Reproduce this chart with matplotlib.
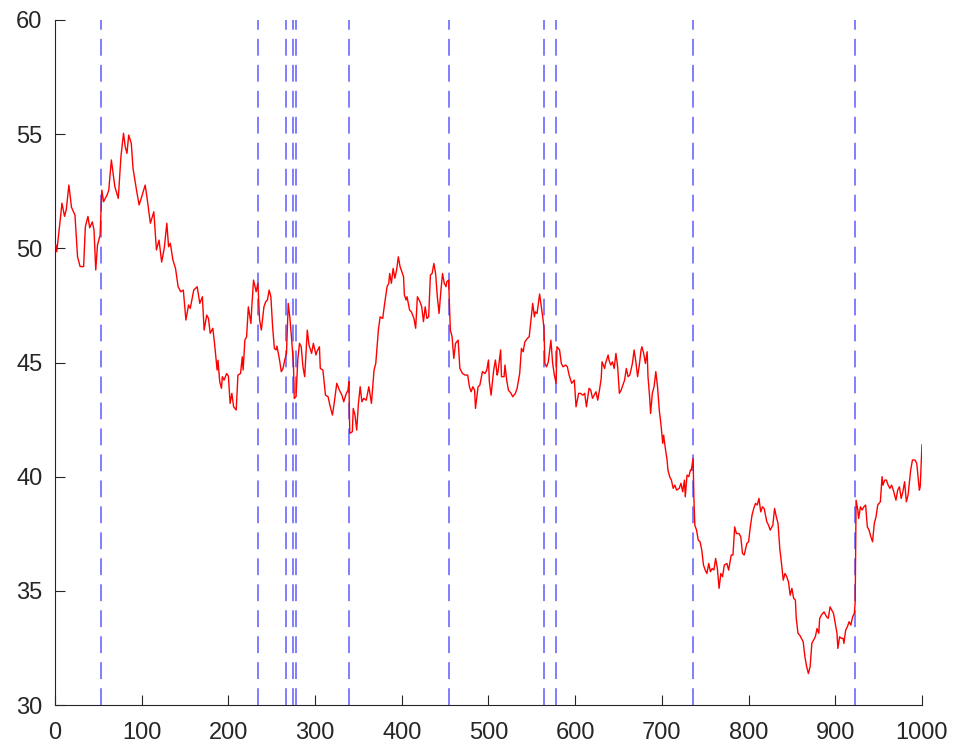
import matplotlib
matplotlib.use("Agg")
import matplotlib.pyplot as plt

plt.rcParams["font.family"] = ["Liberation Sans", "DejaVu Sans"]

# series (sample index, value)
idx = [1, 2, 6, 8, 11, 13, 16, 19, 23, 26, 29, 33, 35, 38, 40, 43, 45, 47, 49, 52,
       54, 56, 60, 62, 65, 69, 73, 76, 79, 81, 83, 85, 88, 90, 94, 97, 100, 104, 106, 110,
       114, 117, 120, 123, 126, 129, 131, 133, 136, 139, 142, 145, 148, 151, 154, 156, 160, 164, 167, 170,
       172, 175, 177, 179, 182, 184, 187, 188, 190, 192, 193, 195, 198, 200, 202, 204, 206, 209, 211, 214,
       216, 217, 219, 221, 223, 226, 227, 229, 232, 234, 236, 238, 241, 243, 245, 247, 249, 251, 253, 255,
       256, 259, 261, 263, 265, 267, 269, 271, 273, 275, 276, 278, 280, 282, 284, 286, 288, 291, 293, 296,
       298, 301, 302, 305, 306, 309, 312, 315, 317, 320, 322, 325, 328, 331, 333, 336, 338, 339, 340, 343,
       344, 346, 348, 350, 352, 354, 356, 359, 362, 365, 368, 370, 373, 375, 378, 380, 383, 385, 386, 388,
       390, 392, 394, 396, 398, 400, 402, 403, 405, 406, 409, 411, 414, 416, 418, 421, 423, 425, 427, 429,
       431, 433, 435, 437, 439, 441, 443, 445, 447, 449, 451, 452, 454, 456, 458, 460, 462, 465, 467, 470,
       473, 476, 478, 480, 482, 484, 485, 488, 490, 493, 496, 498, 500, 501, 503, 506, 508, 510, 511, 514,
       515, 518, 519, 521, 523, 526, 528, 531, 533, 536, 538, 540, 542, 545, 547, 549, 551, 553, 554, 556,
       559, 561, 563, 564, 565, 567, 569, 572, 574, 576, 578, 579, 582, 584, 586, 589, 591, 593, 596, 599,
       601, 604, 606, 609, 611, 613, 616, 618, 620, 622, 624, 626, 628, 630, 631, 634, 635, 638, 639, 641,
       643, 645, 647, 649, 651, 653, 655, 657, 659, 661, 663, 666, 668, 670, 672, 674, 676, 677, 679, 681,
       683, 684, 686, 687, 689, 691, 693, 695, 697, 699, 701, 702, 704, 706, 707, 709, 711, 713, 715, 717,
       720, 722, 724, 726, 727, 729, 731, 733, 734, 736, 737, 738, 740, 742, 744, 746, 748, 750, 752, 754,
       756, 758, 760, 762, 764, 766, 768, 770, 772, 775, 777, 780, 782, 784, 786, 789, 791, 793, 795, 798,
       800, 802, 804, 806, 808, 810, 812, 814, 816, 818, 821, 823, 825, 828, 830, 832, 834, 836, 838, 840,
       842, 844, 846, 848, 850, 852, 854, 855, 857, 859, 861, 863, 865, 867, 869, 871, 873, 875, 877, 879,
       881, 882, 884, 887, 890, 892, 894, 896, 898, 900, 902, 903, 905, 907, 909, 910, 912, 914, 916, 918,
       920, 922, 923, 924, 926, 927, 929, 931, 933, 935, 937, 939, 941, 943, 945, 947, 949, 952, 954, 955,
       957, 959, 961, 963, 965, 967, 969, 970, 972, 974, 976, 978, 980, 982, 984, 985, 987, 989, 992, 994,
       997, 998, 1000]

value = [50.14, 49.85, 51.24, 51.98, 51.40, 51.70, 52.77, 51.80, 51.46, 49.63, 49.20, 49.20, 50.95, 51.40, 50.90, 51.16, 50.80, 49.05, 50.14, 50.58,
         52.55, 52.04, 52.33, 52.55, 53.87, 52.70, 52.19, 54.00, 55.04, 54.45, 54.16, 54.96, 54.60, 53.50, 52.55, 51.90, 52.26, 52.77, 52.26, 51.10,
         51.60, 49.93, 50.36, 49.40, 50.00, 51.10, 50.07, 50.22, 49.49, 49.12, 48.32, 48.10, 48.17, 46.86, 47.52, 47.37, 48.17, 48.32, 47.59, 47.88,
         46.42, 47.08, 46.93, 46.28, 46.50, 45.84, 44.67, 45.10, 44.16, 43.87, 44.38, 44.23, 44.52, 44.40, 43.21, 43.65, 43.06, 42.92, 44.45, 44.52,
         45.25, 44.67, 45.98, 46.13, 47.44, 46.71, 47.44, 48.61, 48.10, 48.47, 46.86, 46.42, 47.44, 47.66, 47.74, 48.17, 47.88, 46.57, 45.62, 45.55,
         45.72, 45.11, 44.60, 44.74, 45.11, 45.40, 47.59, 46.93, 45.98, 44.96, 43.43, 43.50, 45.11, 45.84, 45.69, 44.81, 44.38, 46.42, 45.76, 45.40,
         45.84, 45.33, 45.47, 45.69, 44.74, 44.67, 43.57, 43.50, 43.14, 42.70, 43.21, 44.09, 43.79, 43.57, 43.28, 43.65, 43.79, 44.16, 41.90, 41.97,
         42.99, 42.70, 42.04, 43.21, 43.94, 43.28, 43.43, 43.35, 43.94, 43.21, 44.67, 44.96, 46.42, 47.00, 46.93, 47.52, 48.32, 48.47, 48.90, 48.47,
         49.12, 48.69, 49.05, 49.63, 49.20, 48.98, 48.76, 47.95, 47.74, 47.88, 47.30, 47.22, 46.93, 46.50, 47.88, 47.66, 47.44, 46.79, 47.44, 46.93,
         47.00, 48.83, 48.90, 49.34, 48.90, 47.88, 47.15, 48.10, 48.90, 48.47, 48.32, 48.54, 48.61, 46.42, 46.13, 45.18, 45.84, 45.98, 44.74, 44.52,
         44.45, 44.45, 43.94, 43.72, 43.94, 43.79, 42.99, 43.94, 44.00, 44.60, 44.52, 44.67, 45.11, 44.16, 43.57, 44.67, 45.11, 44.45, 44.60, 45.55,
         44.38, 44.38, 44.89, 44.23, 43.79, 43.65, 43.50, 43.65, 43.87, 44.52, 45.62, 45.47, 45.91, 46.06, 46.13, 46.86, 47.59, 47.00, 47.22, 47.15,
         48.00, 47.44, 46.86, 46.50, 44.96, 44.81, 45.03, 45.98, 44.96, 44.45, 44.09, 45.69, 45.55, 44.96, 44.81, 44.89, 44.81, 44.45, 44.09, 44.23,
         43.06, 43.65, 43.65, 43.57, 43.65, 43.06, 43.87, 43.79, 43.43, 43.57, 43.72, 43.35, 43.79, 44.30, 45.03, 44.74, 44.96, 45.33, 45.11, 44.89,
         45.03, 44.74, 45.40, 44.81, 43.65, 43.79, 44.01, 44.23, 44.74, 44.38, 44.45, 44.96, 45.55, 45.03, 44.38, 44.89, 45.55, 45.69, 45.40, 44.96,
         45.47, 44.38, 43.43, 42.77, 43.65, 43.94, 44.60, 43.94, 42.92, 42.26, 41.46, 41.82, 41.24, 40.73, 40.29, 40.00, 39.85, 39.49, 39.63, 39.41,
         39.49, 39.71, 39.34, 39.85, 39.12, 40.07, 40.00, 40.29, 40.29, 40.80, 38.97, 37.88, 37.66, 37.22, 37.15, 36.79, 36.13, 35.91, 35.76, 36.20,
         35.84, 35.98, 35.91, 36.42, 35.98, 35.11, 35.76, 35.62, 36.13, 36.20, 35.91, 36.57, 36.57, 37.80, 37.51, 37.51, 37.37, 36.64, 36.57, 37.08,
         37.15, 37.80, 38.32, 38.61, 38.83, 38.76, 39.05, 38.46, 38.68, 38.61, 38.03, 37.88, 37.66, 37.88, 38.61, 38.24, 37.95, 36.86, 36.20, 35.47,
         35.76, 35.62, 35.40, 34.81, 35.11, 34.67, 34.60, 33.80, 33.14, 33.06, 32.92, 32.77, 32.11, 31.68, 31.38, 31.68, 32.70, 32.84, 32.99, 33.35,
         33.14, 33.79, 33.94, 34.08, 33.86, 33.80, 34.30, 34.16, 34.01, 33.58, 33.14, 32.48, 32.99, 32.92, 32.92, 32.70, 33.28, 33.43, 33.65, 33.50,
         33.86, 34.01, 34.52, 38.97, 38.54, 38.17, 38.68, 38.54, 38.68, 38.76, 37.80, 37.66, 37.37, 37.15, 37.95, 38.24, 38.76, 38.90, 40.00, 39.63,
         39.85, 39.85, 39.63, 39.49, 39.63, 39.41, 39.12, 38.97, 39.41, 39.56, 39.05, 39.34, 39.78, 38.90, 39.20, 39.56, 40.29, 40.73, 40.73, 40.58,
         39.41, 39.56, 41.39]

# change points (dashed verticals)
breaks = [53, 234, 267, 274, 278, 339, 454, 564, 578, 736, 923]

xticks = list(range(0, 1001, 100))
yticks = [30, 35, 40, 45, 50, 55, 60]

fig = plt.figure(figsize=(9.55, 7.49), dpi=100)
ax = fig.add_axes([0.0576, 0.0587, 0.9078, 0.9146])

ax.plot(idx, value, color="red", lw=1.0, zorder=3)
for b in breaks:
    ax.axvline(b, color="#5c5cff", lw=1.1, dashes=(11, 6), zorder=2)

ax.set_xlim(0, 1000)
ax.set_ylim(30, 60)
ax.set_xticks(xticks)
ax.set_yticks(yticks)
ax.tick_params(direction="in", length=7.2, width=0.8, colors="#262626",
               labelsize=17)
ax.tick_params(axis="x", pad=12)
ax.tick_params(axis="y", pad=9)
for s in ["top", "right"]:
    ax.spines[s].set_visible(False)
for s in ["left", "bottom"]:
    ax.spines[s].set_color("#262626")
    ax.spines[s].set_linewidth(0.8)

fig.savefig("out.png", dpi=100)
